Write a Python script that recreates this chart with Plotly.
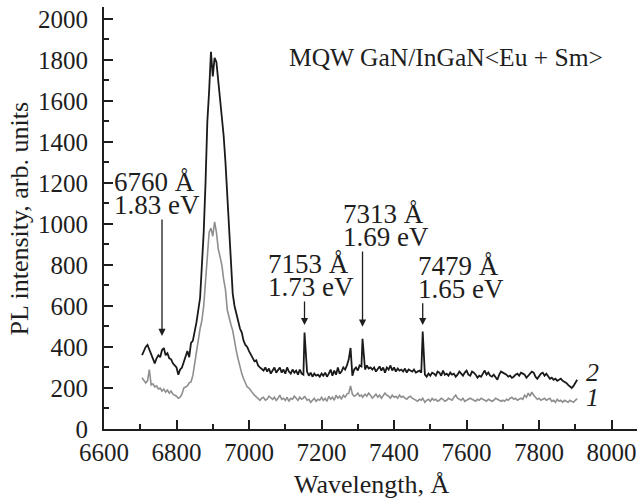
import plotly.graph_objects as go

# Photoluminescence spectra of the MQW GaN/InGaN<Eu + Sm> structure
WAVELENGTH = [
    6705, 6710, 6715, 6720, 6725, 6730, 6735, 6740, 6745, 6750,
    6755, 6760, 6765, 6770, 6775, 6780, 6785, 6790, 6795, 6800,
    6805, 6810, 6815, 6820, 6825, 6830, 6835, 6840, 6845, 6850,
    6855, 6860, 6865, 6870, 6875, 6880, 6885, 6890, 6895, 6900,
    6905, 6910, 6915, 6920, 6925, 6930, 6935, 6940, 6945, 6950,
    6955, 6960, 6965, 6970, 6975, 6980, 6985, 6990, 6995, 7000,
    7005, 7010, 7015, 7020, 7025, 7030, 7035, 7040, 7045, 7050,
    7055, 7060, 7065, 7070, 7075, 7080, 7085, 7090, 7095, 7100,
    7105, 7110, 7115, 7120, 7125, 7130, 7135, 7140, 7145, 7150,
    7153, 7160, 7165, 7170, 7175, 7180, 7185, 7190, 7195, 7200,
    7205, 7210, 7215, 7220, 7225, 7230, 7235, 7240, 7245, 7250,
    7255, 7260, 7265, 7270, 7275, 7280, 7285, 7290, 7295, 7300,
    7305, 7310, 7313, 7320, 7325, 7330, 7335, 7340, 7345, 7350,
    7355, 7360, 7365, 7370, 7375, 7380, 7385, 7390, 7395, 7400,
    7405, 7410, 7415, 7420, 7425, 7430, 7435, 7440, 7445, 7450,
    7455, 7460, 7465, 7470, 7475, 7479, 7485, 7490, 7495, 7500,
    7505, 7510, 7515, 7520, 7525, 7530, 7535, 7540, 7545, 7550,
    7555, 7560, 7565, 7570, 7575, 7580, 7585, 7590, 7595, 7600,
    7605, 7610, 7615, 7620, 7625, 7630, 7635, 7640, 7645, 7650,
    7655, 7660, 7665, 7670, 7675, 7680, 7685, 7690, 7695, 7700,
    7705, 7710, 7715, 7720, 7725, 7730, 7735, 7740, 7745, 7750,
    7755, 7760, 7765, 7770, 7775, 7780, 7785, 7790, 7795, 7800,
    7805, 7810, 7815, 7820, 7825, 7830, 7835, 7840, 7845, 7850,
    7855, 7860, 7865, 7870, 7875, 7880, 7885, 7890, 7895, 7900,
    7905,
]

# Curve 2 (black)
PL_CURVE_2 = [
    360, 385, 400, 410, 385, 365, 340, 320, 345, 360,
    350, 385, 395, 360, 370, 345, 340, 320, 310, 300,
    265, 290, 300, 330, 355, 380, 350, 420, 430, 470,
    520, 580, 640, 800, 960, 1200, 1500, 1650, 1840, 1720,
    1810, 1790, 1700, 1580, 1510, 1430, 1300, 1150, 980, 800,
    660, 600, 565, 530, 490, 470, 430, 410, 400, 380,
    365, 345, 330, 335, 310, 300, 290, 285, 300, 280,
    295, 270, 285, 300, 275, 290, 300, 275, 290, 270,
    300, 280, 270, 290, 275, 285, 265, 290, 270, 265,
    470, 280, 260, 275, 255, 270, 260, 265, 255, 270,
    260, 275, 255, 270, 290, 260, 285, 265, 300, 270,
    280, 300, 290, 310, 340, 395, 260, 290, 300, 285,
    310, 305, 440, 290, 310, 295, 300, 290, 300, 280,
    295, 305, 285, 300, 275, 300, 290, 310, 285, 300,
    280, 295, 285, 290, 280, 295, 275, 290, 285, 280,
    290, 275, 280, 285, 275, 475, 265, 255, 270, 260,
    275, 270, 260, 280, 275, 260, 285, 265, 270, 260,
    275, 265, 270, 255, 265, 280, 270, 260, 275, 285,
    265, 260, 280, 275, 265, 250, 260, 255, 270, 285,
    265, 275, 260, 255, 265, 250, 240, 265, 280, 275,
    270, 265, 255, 260, 250, 255, 265, 270, 260, 275,
    270, 265, 250, 260, 270, 280, 275, 255, 245, 260,
    270, 275, 260, 270, 255, 245, 250, 240, 245, 235,
    240, 245, 235, 230, 225, 215, 205, 200, 210, 225,
    240,
]

# Curve 1 (grey)
PL_CURVE_1 = [
    250, 240, 225, 235, 290, 215, 220, 205, 210, 195,
    200, 185, 195, 180, 190, 175, 185, 170, 165, 160,
    150, 155, 170, 200, 205, 210, 225, 230, 260, 320,
    370, 440, 490, 530, 600, 720, 820, 960, 980, 940,
    1010, 960, 880, 840, 800, 730, 680, 580, 540, 510,
    480, 420, 380, 340, 300, 270, 245, 220, 205, 200,
    185, 175, 165, 155, 145, 140, 150, 155, 140, 145,
    160, 150, 145, 155, 140, 150, 165, 145, 150, 140,
    155, 135, 150, 145, 160, 150, 140, 155, 145, 150,
    160, 140, 145, 130, 140, 150, 135, 145, 140, 155,
    140, 150, 135, 160, 145, 155, 140, 165, 150, 160,
    145, 165, 155, 170, 175, 210, 170, 160, 165, 175,
    160, 165, 155, 170, 160, 175, 165, 150, 160, 170,
    155, 165, 150, 160, 175, 165, 160, 150, 165, 155,
    160, 150, 165, 155, 160, 150, 145, 155, 160, 150,
    145, 140, 135, 145, 140, 150, 130, 140, 145, 135,
    150, 140, 145, 135, 140, 150, 145, 135, 140, 150,
    145, 140, 155, 165, 150, 145, 140, 150, 135, 140,
    145, 150, 145, 140, 135, 145, 140, 150, 145, 140,
    135, 145, 140, 135, 140, 150, 145, 140, 135, 140,
    135, 145, 140, 150, 155, 145, 150, 140, 145, 150,
    145, 165, 155, 175, 160, 180, 165, 155, 145, 150,
    140, 145, 150, 140, 145, 150, 135, 140, 130, 145,
    135, 140, 130, 140, 135, 130, 140, 135, 130, 140,
    148,
]

# Marked emission lines
PEAK_WAVELENGTH = [6760, 7153, 7313, 7479]
PEAK_ENERGY_EV = [1.83, 1.73, 1.69, 1.65]

X_TICKS = [6600, 6800, 7000, 7200, 7400, 7600, 7800, 8000]
Y_TICKS = [0, 200, 400, 600, 800, 1000, 1200, 1400, 1600, 1800, 2000]

assert len(WAVELENGTH) == len(PL_CURVE_2) == len(PL_CURVE_1)

FONT = "Liberation Serif"
INK = "#1e1e1e"

fig = go.Figure()
fig.add_trace(go.Scatter(x=WAVELENGTH, y=PL_CURVE_1, mode="lines",
                         line=dict(color="#8f8f8f", width=1.6)))
fig.add_trace(go.Scatter(x=WAVELENGTH, y=PL_CURVE_2, mode="lines",
                         line=dict(color="#1a1a1a", width=1.8)))

# arrow tip / tail heights (intensity units) and label offsets (px)
arrow_tip = [454, 507, 499, 507]
arrow_tail = [1029, 629, 873, 621]
label_dx = [-50, -39, -22, -7]

annotations = []
for wl, ev, tip, tail, dx in zip(PEAK_WAVELENGTH, PEAK_ENERGY_EV,
                                 arrow_tip, arrow_tail, label_dx):
    annotations.append(dict(
        x=wl, y=tip, ax=wl, ay=tail, xref="x", yref="y", axref="x", ayref="y",
        text="", showarrow=True, arrowhead=2, arrowsize=1.1, arrowwidth=1.3,
        arrowcolor=INK, standoff=0, startstandoff=0))
    annotations.append(dict(
        x=wl, y=tail, xref="x", yref="y", xanchor="left", yanchor="middle",
        xshift=dx, yshift=13, showarrow=False, text=f"{ev:.2f} eV",
        font=dict(family=FONT, size=27, color=INK)))
    annotations.append(dict(
        x=wl, y=tail, xref="x", yref="y", xanchor="left", yanchor="middle",
        xshift=dx, yshift=36, showarrow=False, text=f"{wl} Å",
        font=dict(family=FONT, size=27, color=INK)))

annotations += [
    dict(x=7544, y=1810, xref="x", yref="y", showarrow=False,
         text="MQW GaN/InGaN&lt;Eu + Sm&gt;", xanchor="center", yanchor="middle",
         font=dict(family=FONT, size=25.5, color=INK)),
    dict(x=7948, y=278, xref="x", yref="y", showarrow=False, text="<i>2</i>",
         xanchor="center", yanchor="middle", font=dict(family=FONT, size=26, color=INK)),
    dict(x=7948, y=156, xref="x", yref="y", showarrow=False, text="<i>1</i>",
         xanchor="center", yanchor="middle", font=dict(family=FONT, size=26, color=INK)),
    dict(x=0.5025, y=-0.1327, xref="paper", yref="paper", showarrow=False,
         text="Wavelength, Å", xanchor="center", yanchor="middle",
         font=dict(family=FONT, size=26, color=INK)),
    dict(x=-0.1587, y=0.5, xref="paper", yref="paper", showarrow=False,
         text="PL intensity, arb. units", textangle=-90, xanchor="center",
         yanchor="middle", font=dict(family=FONT, size=26, color=INK)),
]

axis_common = dict(
    ticks="inside", ticklen=9, tickwidth=1.5, tickcolor=INK,
    showline=True, linewidth=2, linecolor=INK, mirror=False,
    showgrid=False, zeroline=False,
    tickfont=dict(family=FONT, size=25, color=INK),
)

fig.update_layout(
    width=640, height=504,
    margin=dict(l=104, r=3, t=7, b=75),
    paper_bgcolor="white", plot_bgcolor="white",
    showlegend=False,
    font=dict(family=FONT, color=INK),
    annotations=annotations,
    xaxis=dict(range=[6600, 8070], tickmode="array", tickvals=X_TICKS,
               minor=dict(tick0=6600, dtick=100, ticks="inside", ticklen=5,
                          tickwidth=1.5, tickcolor=INK, showgrid=False),
               **axis_common),
    yaxis=dict(range=[0, 2058], tickmode="array", tickvals=Y_TICKS,
               ticklabelstandoff=9,
               minor=dict(tick0=0, dtick=100, ticks="inside", ticklen=5,
                          tickwidth=1.5, tickcolor=INK, showgrid=False),
               **axis_common),
)

fig.write_html("out.html")
